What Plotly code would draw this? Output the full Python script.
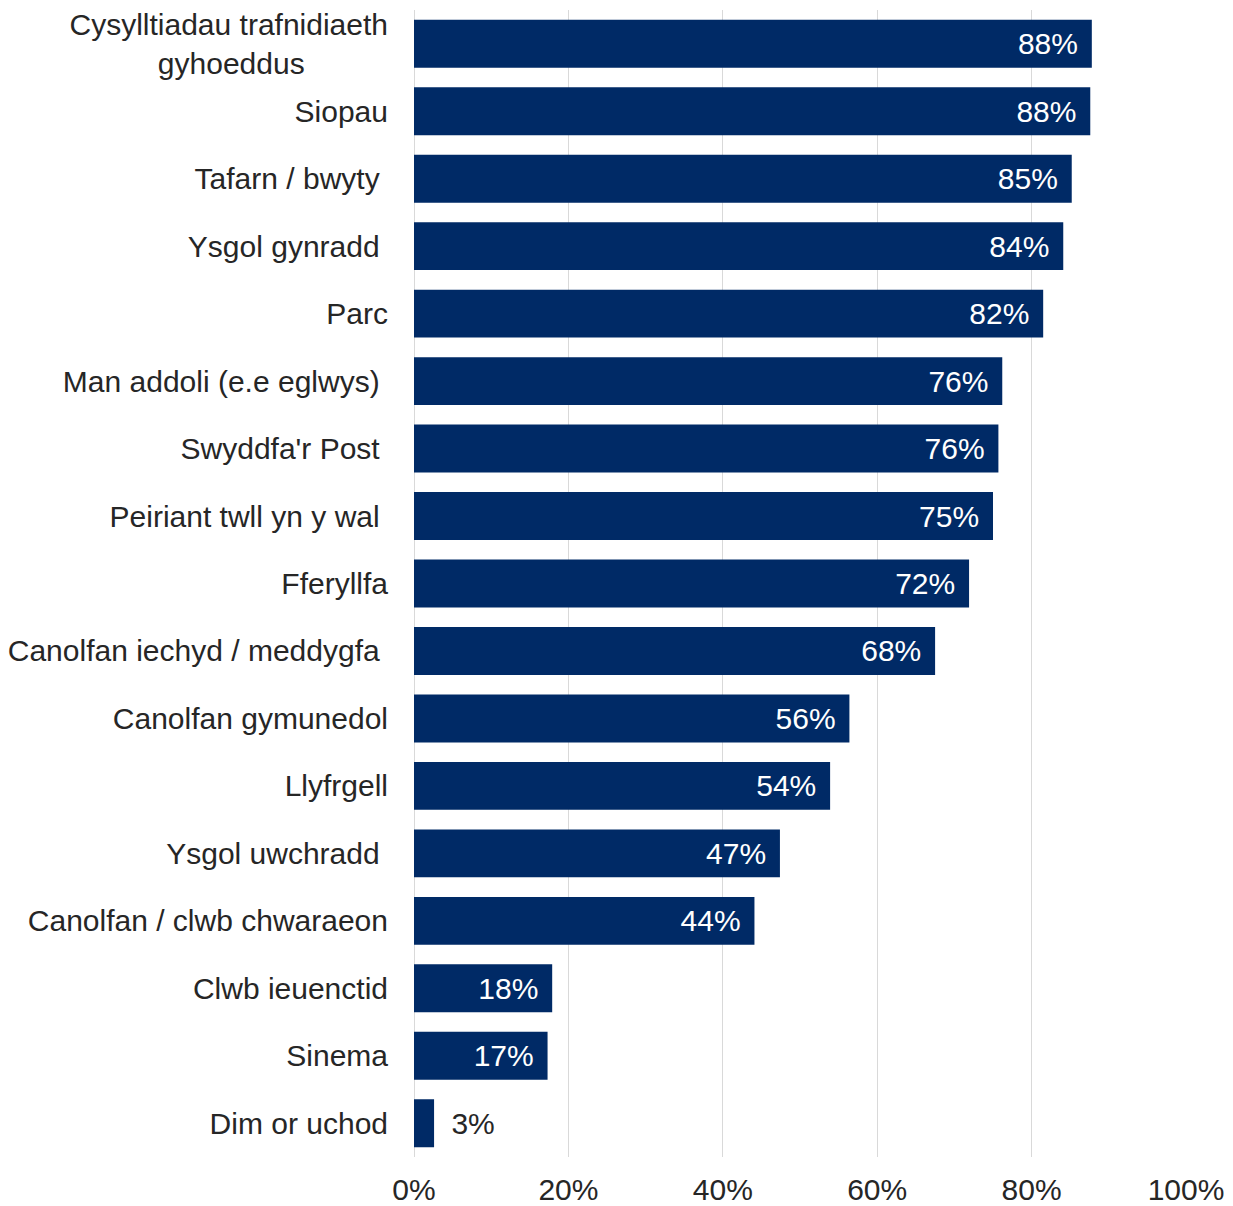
import plotly.graph_objects as go

NB = "\u00a0"

categories = [
    "Cysylltiadau trafnidiaeth<br>gyhoeddus" + NB * 10,
    "Siopau",
    "Tafarn / bwyty" + NB,
    "Ysgol gynradd" + NB,
    "Parc",
    "Man addoli (e.e eglwys)" + NB,
    "Swyddfa'r Post" + NB,
    "Peiriant twll yn y wal" + NB,
    "Fferyllfa",
    "Canolfan iechyd / meddygfa" + NB,
    "Canolfan gymunedol",
    "Llyfrgell",
    "Ysgol uwchradd" + NB,
    "Canolfan / clwb chwaraeon",
    "Clwb ieuenctid",
    "Sinema",
    "Dim or uchod",
]
values = [87.8, 87.6, 85.2, 84.1, 81.5, 76.2, 75.7, 75.0, 71.9, 67.5,
          56.4, 53.9, 47.4, 44.1, 17.9, 17.3, 2.6]
x_tickvals = [0, 20, 40, 60, 80, 100]
x_ticktext = ["0%", "20%", "40%", "60%", "80%", "100%"]

BAR = "#002A66"
TXT = "#262626"
FONT = "Liberation Sans, Arial, sans-serif"
FS = 30

texts = []
positions = []
colors = []
for v in values:
    lab = f"{round(v)}%"
    if v >= 10:
        texts.append(lab + NB + "\u200a")
        positions.append("inside")
        colors.append("white")
    else:
        texts.append(NB + "\u2009" + lab)
        positions.append("outside")
        colors.append(TXT)

fig = go.Figure(go.Bar(
    x=values, y=categories, orientation="h",
    marker=dict(color=BAR, line=dict(width=0)),
    text=texts, textposition=positions,
    insidetextanchor="end",
    textfont=dict(family=FONT, size=FS, color=colors),
    cliponaxis=False,
    hoverinfo="skip",
))

fig.update_layout(
    width=1225, height=1198,
    margin=dict(l=404, r=47, t=0, b=49),
    paper_bgcolor="white", plot_bgcolor="white",
    bargap=0.29,
    showlegend=False,
    font=dict(family=FONT, size=FS, color=TXT),
)
fig.update_xaxes(
    range=[0, 100], tickvals=x_tickvals, ticktext=x_ticktext,
    showgrid=True, gridcolor="#D9D9D9", gridwidth=1,
    zeroline=True, zerolinecolor="#D9D9D9", zerolinewidth=1,
    showline=False, ticks="",
    ticklabelstandoff=12,
    tickfont=dict(family=FONT, size=FS, color=TXT),
)
fig.update_yaxes(
    autorange="reversed", showgrid=False, showline=False, ticks="",
    ticklabelstandoff=25,
    tickfont=dict(family=FONT, size=FS, color=TXT),
)

fig.write_html("out.html")
